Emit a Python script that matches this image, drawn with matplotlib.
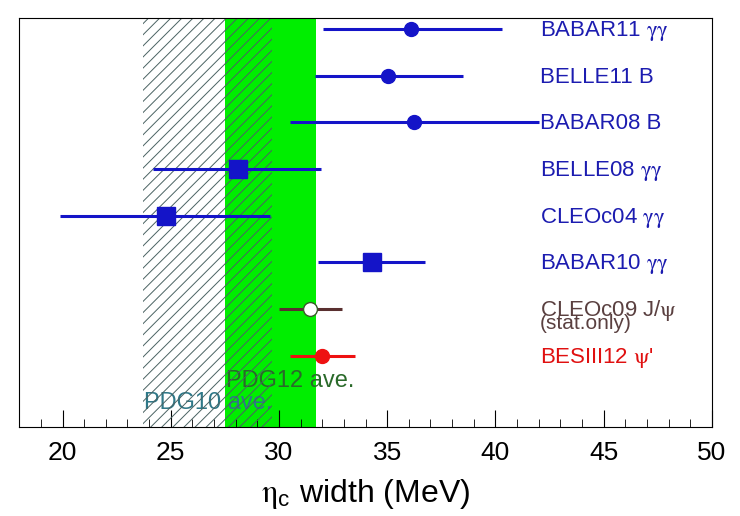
import matplotlib.pyplot as plt
from matplotlib.ticker import MultipleLocator

plt.rcParams['font.family'] = ['Liberation Sans', 'DejaVu Sans']
plt.rcParams['mathtext.fontset'] = 'stix'
plt.rcParams['hatch.linewidth'] = 0.7

# measurements, top to bottom
labels = ['BABAR11 $\\mathrm{\\gamma\\gamma}$', 'BELLE11 B', 'BABAR08 B',
          'BELLE08 $\\mathrm{\\gamma\\gamma}$', 'CLEOc04 $\\mathrm{\\gamma\\gamma}$',
          'BABAR10 $\\mathrm{\\gamma\\gamma}$', 'CLEOc09 J/$\\mathrm{\\psi}$',
          "BESIII12 $\\mathrm{\\psi}$'"]
widths = [36.1, 35.05, 36.25, 28.1, 24.8, 34.3, 31.45, 32.0]
err_lo = [4.05, 3.4, 5.75, 3.9, 4.9, 2.5, 1.45, 1.5]
err_hi = [4.2, 3.45, 5.75, 3.85, 4.8, 2.45, 1.45, 1.5]

pdg10 = (23.7, 29.7)
pdg12 = (27.5, 31.7)

blue = '#1414c8'
colors = [blue] * 6 + ['#5a3030', '#ee1111']
markers = ['o', 'o', 'o', 's', 's', 's', 'o', 'o']
label_colors = ['#1c1cb0'] * 6 + ['#5a4040', '#e01010']

fig = plt.figure(figsize=(7.4, 5.16), dpi=100)
ax = fig.add_axes([0.026, 0.1725, 0.936, 0.7925])

ax.axvspan(pdg12[0], pdg12[1], color='#00ee00', lw=0, zorder=1)
ax.axvspan(pdg10[0], pdg10[1], facecolor='none', edgecolor='#4a6262',
           hatch='///', lw=0, zorder=2)

n = len(labels)
for i in range(n):
    y = n - i
    ms = 12.5 if markers[i] == 's' else 10
    is_open = labels[i].startswith('CLEOc09')
    face = 'white' if is_open else colors[i]
    edge = '#3a5a2a' if is_open else colors[i]
    ax.errorbar(widths[i], y, xerr=[[err_lo[i]], [err_hi[i]]], fmt=markers[i],
                color=colors[i], ms=ms, mfc=face, mec=edge, elinewidth=2.2,
                capsize=0, zorder=3)
    ax.text(42.05, y - 0.15, labels[i], color=label_colors[i], fontsize=16,
            va='baseline', ha='left', zorder=4)

ax.text(42.05, 2 - 0.44, '(stat.only)', color='#5a4040', fontsize=15,
        va='baseline', ha='left', zorder=4)

ax.text(27.55, 0.45, 'PDG12 ave.', color='#2a6a2a', fontsize=17,
        va='center', ha='left', zorder=1.5)
ax.text(23.75, -0.02, 'PDG10 ave.', color='#2f7888', fontsize=17,
        va='center', ha='left', zorder=1.5)

ax.set_xlim(18, 50)
ax.set_ylim(-0.53, 8.234)
ax.set_yticks([])
ax.xaxis.set_major_locator(MultipleLocator(5))
ax.xaxis.set_minor_locator(MultipleLocator(1))
ax.tick_params(axis='x', which='major', direction='in', length=12,
               labelsize=19, pad=10)
ax.tick_params(axis='x', which='minor', direction='in', length=6)
ax.set_xlabel('$\\mathrm{\\eta}_\\mathregular{c}$ width (MeV)', fontsize=23, labelpad=9)

fig.savefig('out.png', dpi=100)
